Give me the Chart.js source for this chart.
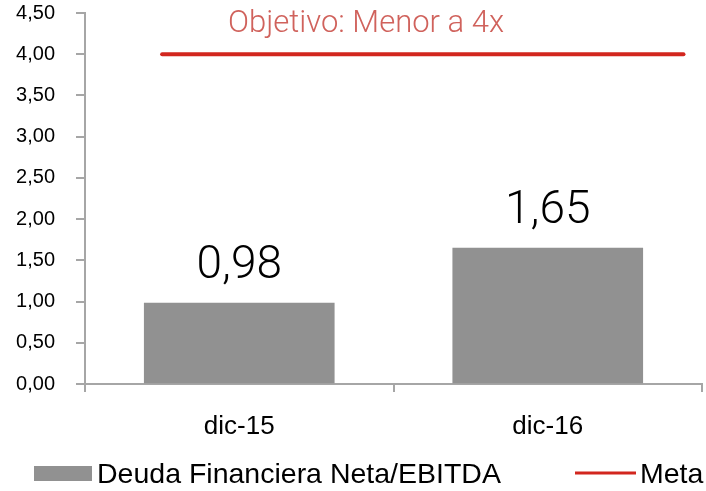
<!DOCTYPE html>
<html>
<head>
<meta charset="utf-8">
<script src="https://cdn.jsdelivr.net/npm/chart.js@4/dist/chart.umd.min.js"></script>
<style>
html,body{margin:0;padding:0;background:#fff;}
#wrap{width:706px;height:491px;position:relative;}
</style>
</head>
<body>
<div id="wrap"><canvas id="c" width="706" height="491"></canvas></div>
<script>
// ---- data ----
const categories = ['dic-15', 'dic-16'];
const deudaValues = [0.98, 1.65];
const metaValue = 4;
const metaSpan = [-0.25, 1.44]; // extent of the target line along the category axis (index units)
const yTicks = [0, 0.5, 1, 1.5, 2, 2.5, 3, 3.5, 4, 4.5];
const seriesNames = ['Deuda Financiera Neta/EBITDA', 'Meta'];
const titleText = 'Objetivo: Menor a 4x';

const fmt = v => v.toFixed(2).replace('.', ',');
const SANS = '"Liberation Sans", Arial, Helvetica, sans-serif';
const LIGHT = 'Roboto, "Liberation Sans", sans-serif';
const AXIS = '#a6a6a6';
const BAR = '#919191';
const RED = '#d2261e';

const overlay = {
  id: 'overlay',
  afterDatasetsDraw(chart) {
    const ctx = chart.ctx;
    const meta = chart.getDatasetMeta(0);
    ctx.save();
    // value labels above bars
    ctx.fillStyle = '#000';
    ctx.font = '300 46px ' + LIGHT;
    ctx.textAlign = 'center';
    ctx.textBaseline = 'alphabetic';
    meta.data.forEach((el, i) => {
      ctx.fillText(fmt(deudaValues[i]), el.x, el.y - 25);
    });
    // annotation
    ctx.fillStyle = '#d0625c';
    ctx.font = '300 31px ' + LIGHT;
    ctx.fillText(titleText, 366, 32);
    // legend
    ctx.textAlign = 'left';
    ctx.font = '28.5px ' + SANS;
    ctx.fillStyle = BAR;
    ctx.fillRect(34, 466, 58, 15);
    ctx.fillStyle = '#000';
    ctx.fillText(chart.data.datasets[0].label, 97, 483);
    ctx.strokeStyle = RED;
    ctx.lineWidth = 3;
    ctx.beginPath();
    ctx.moveTo(575, 473);
    ctx.lineTo(636, 473);
    ctx.stroke();
    ctx.fillStyle = '#000';
    ctx.fillText(chart.data.datasets[1].label, 640, 483);
    ctx.restore();
  }
};

new Chart(document.getElementById('c'), {
  type: 'bar',
  data: {
    labels: categories,
    datasets: [
      {
        type: 'bar',
        label: seriesNames[0],
        data: deudaValues,
        backgroundColor: BAR,
        borderWidth: 0,
        barThickness: 190,
        grouped: false,
        xAxisID: 'x'
      },
      {
        type: 'line',
        label: seriesNames[1],
        data: metaSpan.map(x => ({x: x, y: metaValue})),
        borderColor: RED,
        backgroundColor: RED,
        borderWidth: 4,
        borderCapStyle: 'round',
        pointRadius: 0,
        xAxisID: 'xm'
      }
    ]
  },
  options: {
    responsive: false,
    animation: false,
    devicePixelRatio: 1,
    layout: { padding: { left: 0, right: 4, top: 13, bottom: 0 } },
    plugins: {
      tooltip: { enabled: false },
      title: { display: false },
      legend: { display: false }
    },
    scales: {
      x: {
        type: 'category',
        offset: true,
        afterFit(scale) { scale.height = 107; scale.paddingLeft = 0; scale.paddingRight = 0; },
        grid: {
          offset: true,
          drawOnChartArea: false,
          drawTicks: true,
          tickLength: 8,
          color: AXIS,
          lineWidth: 2
        },
        border: { display: true, color: AXIS, width: 2 },
        ticks: { color: '#000', font: { family: SANS, size: 26 }, padding: 19 }
      },
      xm: {
        type: 'linear',
        display: false,
        offset: false,
        grid: { offset: false },
        min: -0.5,
        max: categories.length - 0.5
      },
      y: {
        min: 0,
        max: 4.5,
        afterBuildTicks(scale) { scale.ticks = yTicks.map(v => ({ value: v })); },
        afterFit(scale) { scale.width = 85; scale.paddingTop = 0; scale.paddingBottom = 0; },
        grid: {
          drawOnChartArea: false,
          drawTicks: true,
          tickLength: 9,
          color: AXIS,
          lineWidth: 2
        },
        border: { display: true, color: AXIS, width: 2 },
        ticks: {
          color: '#000',
          font: { family: SANS, size: 20 },
          padding: 21,
          callback: v => fmt(v)
        }
      }
    }
  },
  plugins: [overlay]
});
</script>
</body>
</html>
